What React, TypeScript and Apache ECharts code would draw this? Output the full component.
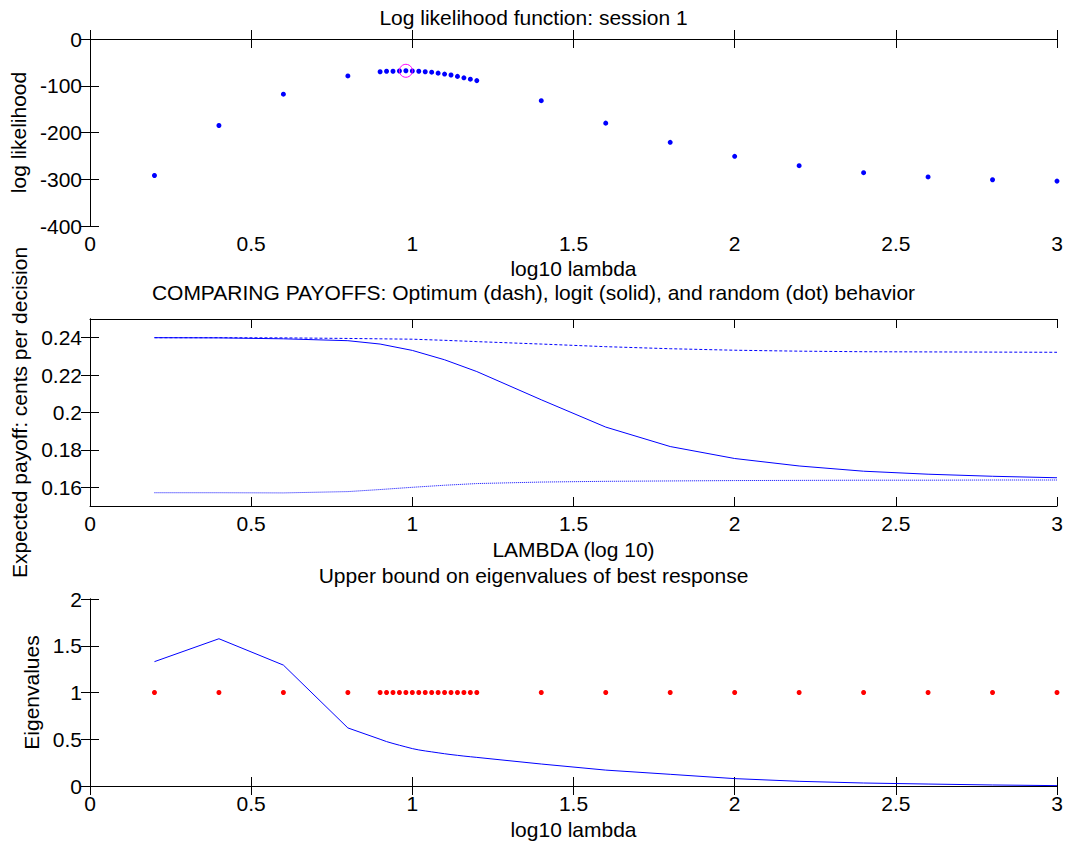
import React, { useEffect, useRef } from "react";
import * as echarts from "echarts";

const lambdaGrid = [0.2, 0.4, 0.6, 0.8, 0.9, 0.92, 0.94, 0.96, 0.98, 1.0, 1.02, 1.04, 1.06, 1.08, 1.1, 1.12, 1.14, 1.16, 1.18, 1.2, 1.4, 1.6, 1.8, 2.0, 2.2, 2.4, 2.6, 2.8, 3.0];
const logLik = [-292, -185, -118, -79, -70, -69, -69, -68.5, -68, -68.5, -69, -70, -71, -73, -75, -77, -80, -83, -86, -89, -132, -180, -221, -251, -271, -286, -295, -301, -304];
const bestPoint = [0.98, -68];

const payoffX = [0.2, 0.4, 0.6, 0.8, 0.9, 1.0, 1.1, 1.2, 1.4, 1.6, 1.8, 2.0, 2.2, 2.4, 2.6, 2.8, 3.0];
const optimumPayoff = [0.24, 0.24, 0.2399, 0.2396, 0.2394, 0.2392, 0.2386, 0.2379, 0.2366, 0.2352, 0.2341, 0.2333, 0.2328, 0.2325, 0.2324, 0.2323, 0.2322];
const logitPayoff = [0.24, 0.2399, 0.2394, 0.2384, 0.2366, 0.2332, 0.2282, 0.2219, 0.2068, 0.1922, 0.1818, 0.1754, 0.1714, 0.1686, 0.167, 0.1659, 0.1651];
const randomPayoff = [0.1571, 0.1571, 0.157, 0.1577, 0.1588, 0.16, 0.1611, 0.162, 0.1628, 0.1632, 0.1634, 0.1636, 0.1637, 0.1638, 0.1638, 0.1639, 0.1639];

const eigenBound = [1.33, 1.575, 1.293, 0.621, 0.5, 0.475, 0.455, 0.436, 0.418, 0.4, 0.386, 0.375, 0.365, 0.355, 0.345, 0.336, 0.328, 0.32, 0.313, 0.306, 0.235, 0.17, 0.125, 0.079, 0.05, 0.032, 0.021, 0.011, 0.004];
const unitLine = [1, 1, 1, 1, 1, 1, 1, 1, 1, 1, 1, 1, 1, 1, 1, 1, 1, 1, 1, 1, 1, 1, 1, 1, 1, 1, 1, 1, 1];

const payoffTicks = [0.16, 0.18, 0.2, 0.22, 0.24];

const titles = [
  "Log likelihood function: session 1",
  "COMPARING PAYOFFS: Optimum (dash), logit (solid), and random (dot) behavior",
  "Upper bound on eigenvalues of best response",
];
const xNames = ["log10 lambda", "LAMBDA (log 10)", "log10 lambda"];
const yNames = ["log likelihood", "Expected payoff: cents per decision", "Eigenvalues"];

const FONT = "Liberation Sans, Arial, Helvetica, sans-serif";
const FS = 21;
const BLUE = "#0000ff";
const RED = "#ff0000";

export default function App() {
  const ref = useRef<HTMLDivElement>(null);
  useEffect(() => {
    if (!ref.current) return;
    const chart = echarts.init(ref.current, null, { renderer: "svg" });
    const gridTops = [39, 319, 599];
    const H = 187;
    const grids = gridTops.map((t) => ({ left: 90, width: 967, top: t, height: H, show: false }));
    const axLine = { show: true, lineStyle: { color: "#000", width: 1 } };
    const tick = { show: true, inside: true, length: 9, lineStyle: { color: "#000", width: 1 } };
    const lab = { color: "#000", fontFamily: FONT, fontSize: FS };
    const nameStyle = { ...lab, lineHeight: 19 };
    const xAxis: any[] = [];
    const yAxis: any[] = [];
    const yRanges = [
      { min: -400, max: 0, interval: 100 },
      { min: 0.15, max: 0.25 },
      { min: 0, max: 2, interval: 0.5 },
    ];
    const xNameGaps = [33, 34, 34];
    const yNameGaps = [56, 57, 48];
    for (let i = 0; i < 3; i++) {
      xAxis.push({
        type: "value", gridIndex: i, position: "bottom", min: 0, max: 3, interval: 0.5,
        axisLine: axLine, axisTick: tick, splitLine: { show: false },
        axisLabel: { ...lab, margin: 7 },
        name: xNames[i], nameLocation: "middle", nameGap: xNameGaps[i],
        nameTextStyle: nameStyle,
      });
      xAxis.push({
        type: "value", gridIndex: i, position: "top", min: 0, max: 3, interval: 0.5,
        axisLine: axLine, axisTick: tick, splitLine: { show: false }, axisLabel: { show: false },
      });
      const yr: any = yRanges[i];
      const yl: any = {
        type: "value", gridIndex: i, position: "left", min: yr.min, max: yr.max,
        axisLine: axLine, axisTick: { ...tick }, splitLine: { show: false },
        axisLabel: { ...lab, margin: 8 },
        name: yNames[i], nameLocation: "middle", nameGap: yNameGaps[i],
        nameTextStyle: nameStyle,
      };
      const yrr: any = {
        type: "value", gridIndex: i, position: "right", min: yr.min, max: yr.max,
        axisLine: axLine, axisTick: { ...tick }, splitLine: { show: false }, axisLabel: { show: false },
      };
      if (yr.interval) {
        yl.interval = yr.interval;
        yrr.interval = yr.interval;
      } else {
        yl.axisLabel.customValues = payoffTicks;
        yl.axisTick.customValues = payoffTicks;
        yrr.axisTick.customValues = payoffTicks;
        yl.axisLabel.formatter = (v: number) => String(Math.round(v * 100) / 100);
      }
      yAxis.push(yl);
      yAxis.push(yrr);
    }
    const pair = (xs: number[], ys: number[]) => xs.map((x, k) => [x, ys[k]]);
    const option: any = {
      animation: false,
      backgroundColor: "#fff",
      title: titles.map((t, i) => ({
        text: t, left: "center", top: [8, 283, 566][i], padding: 0,
        textStyle: { fontFamily: FONT, fontSize: FS, fontWeight: "normal", color: "#000", lineHeight: 19 },
      })),
      grid: grids,
      xAxis,
      yAxis,
      series: [
        {
          type: "scatter", xAxisIndex: 0, yAxisIndex: 0, symbolSize: 5,
          itemStyle: { color: BLUE, opacity: 1 }, data: pair(lambdaGrid, logLik),
        },
        {
          type: "scatter", xAxisIndex: 0, yAxisIndex: 0, symbolSize: 13,
          itemStyle: { color: "none", borderColor: "#ff00ff", borderWidth: 1, opacity: 1 }, data: [bestPoint],
        },
        {
          type: "line", xAxisIndex: 2, yAxisIndex: 2, showSymbol: false,
          lineStyle: { color: BLUE, width: 1, type: [3, 2] }, data: pair(payoffX, optimumPayoff),
        },
        {
          type: "line", xAxisIndex: 2, yAxisIndex: 2, showSymbol: false,
          lineStyle: { color: BLUE, width: 1 }, data: pair(payoffX, logitPayoff),
        },
        {
          type: "line", xAxisIndex: 2, yAxisIndex: 2, showSymbol: false,
          lineStyle: { color: BLUE, width: 1, type: [1, 1] }, data: pair(payoffX, randomPayoff),
        },
        {
          type: "line", xAxisIndex: 4, yAxisIndex: 4, showSymbol: false,
          lineStyle: { color: BLUE, width: 1 }, data: pair(lambdaGrid, eigenBound),
        },
        {
          type: "scatter", xAxisIndex: 4, yAxisIndex: 4, symbolSize: 5,
          itemStyle: { color: RED, opacity: 1 }, data: pair(lambdaGrid, unitLine),
        },
      ],
    };
    chart.setOption(option);
    return () => chart.dispose();
  }, []);
  return (
    <div
      ref={ref}
      style={{ position: "fixed", left: 0, top: 0, width: 1067, height: 846, background: "#fff" }}
    />
  );
}
